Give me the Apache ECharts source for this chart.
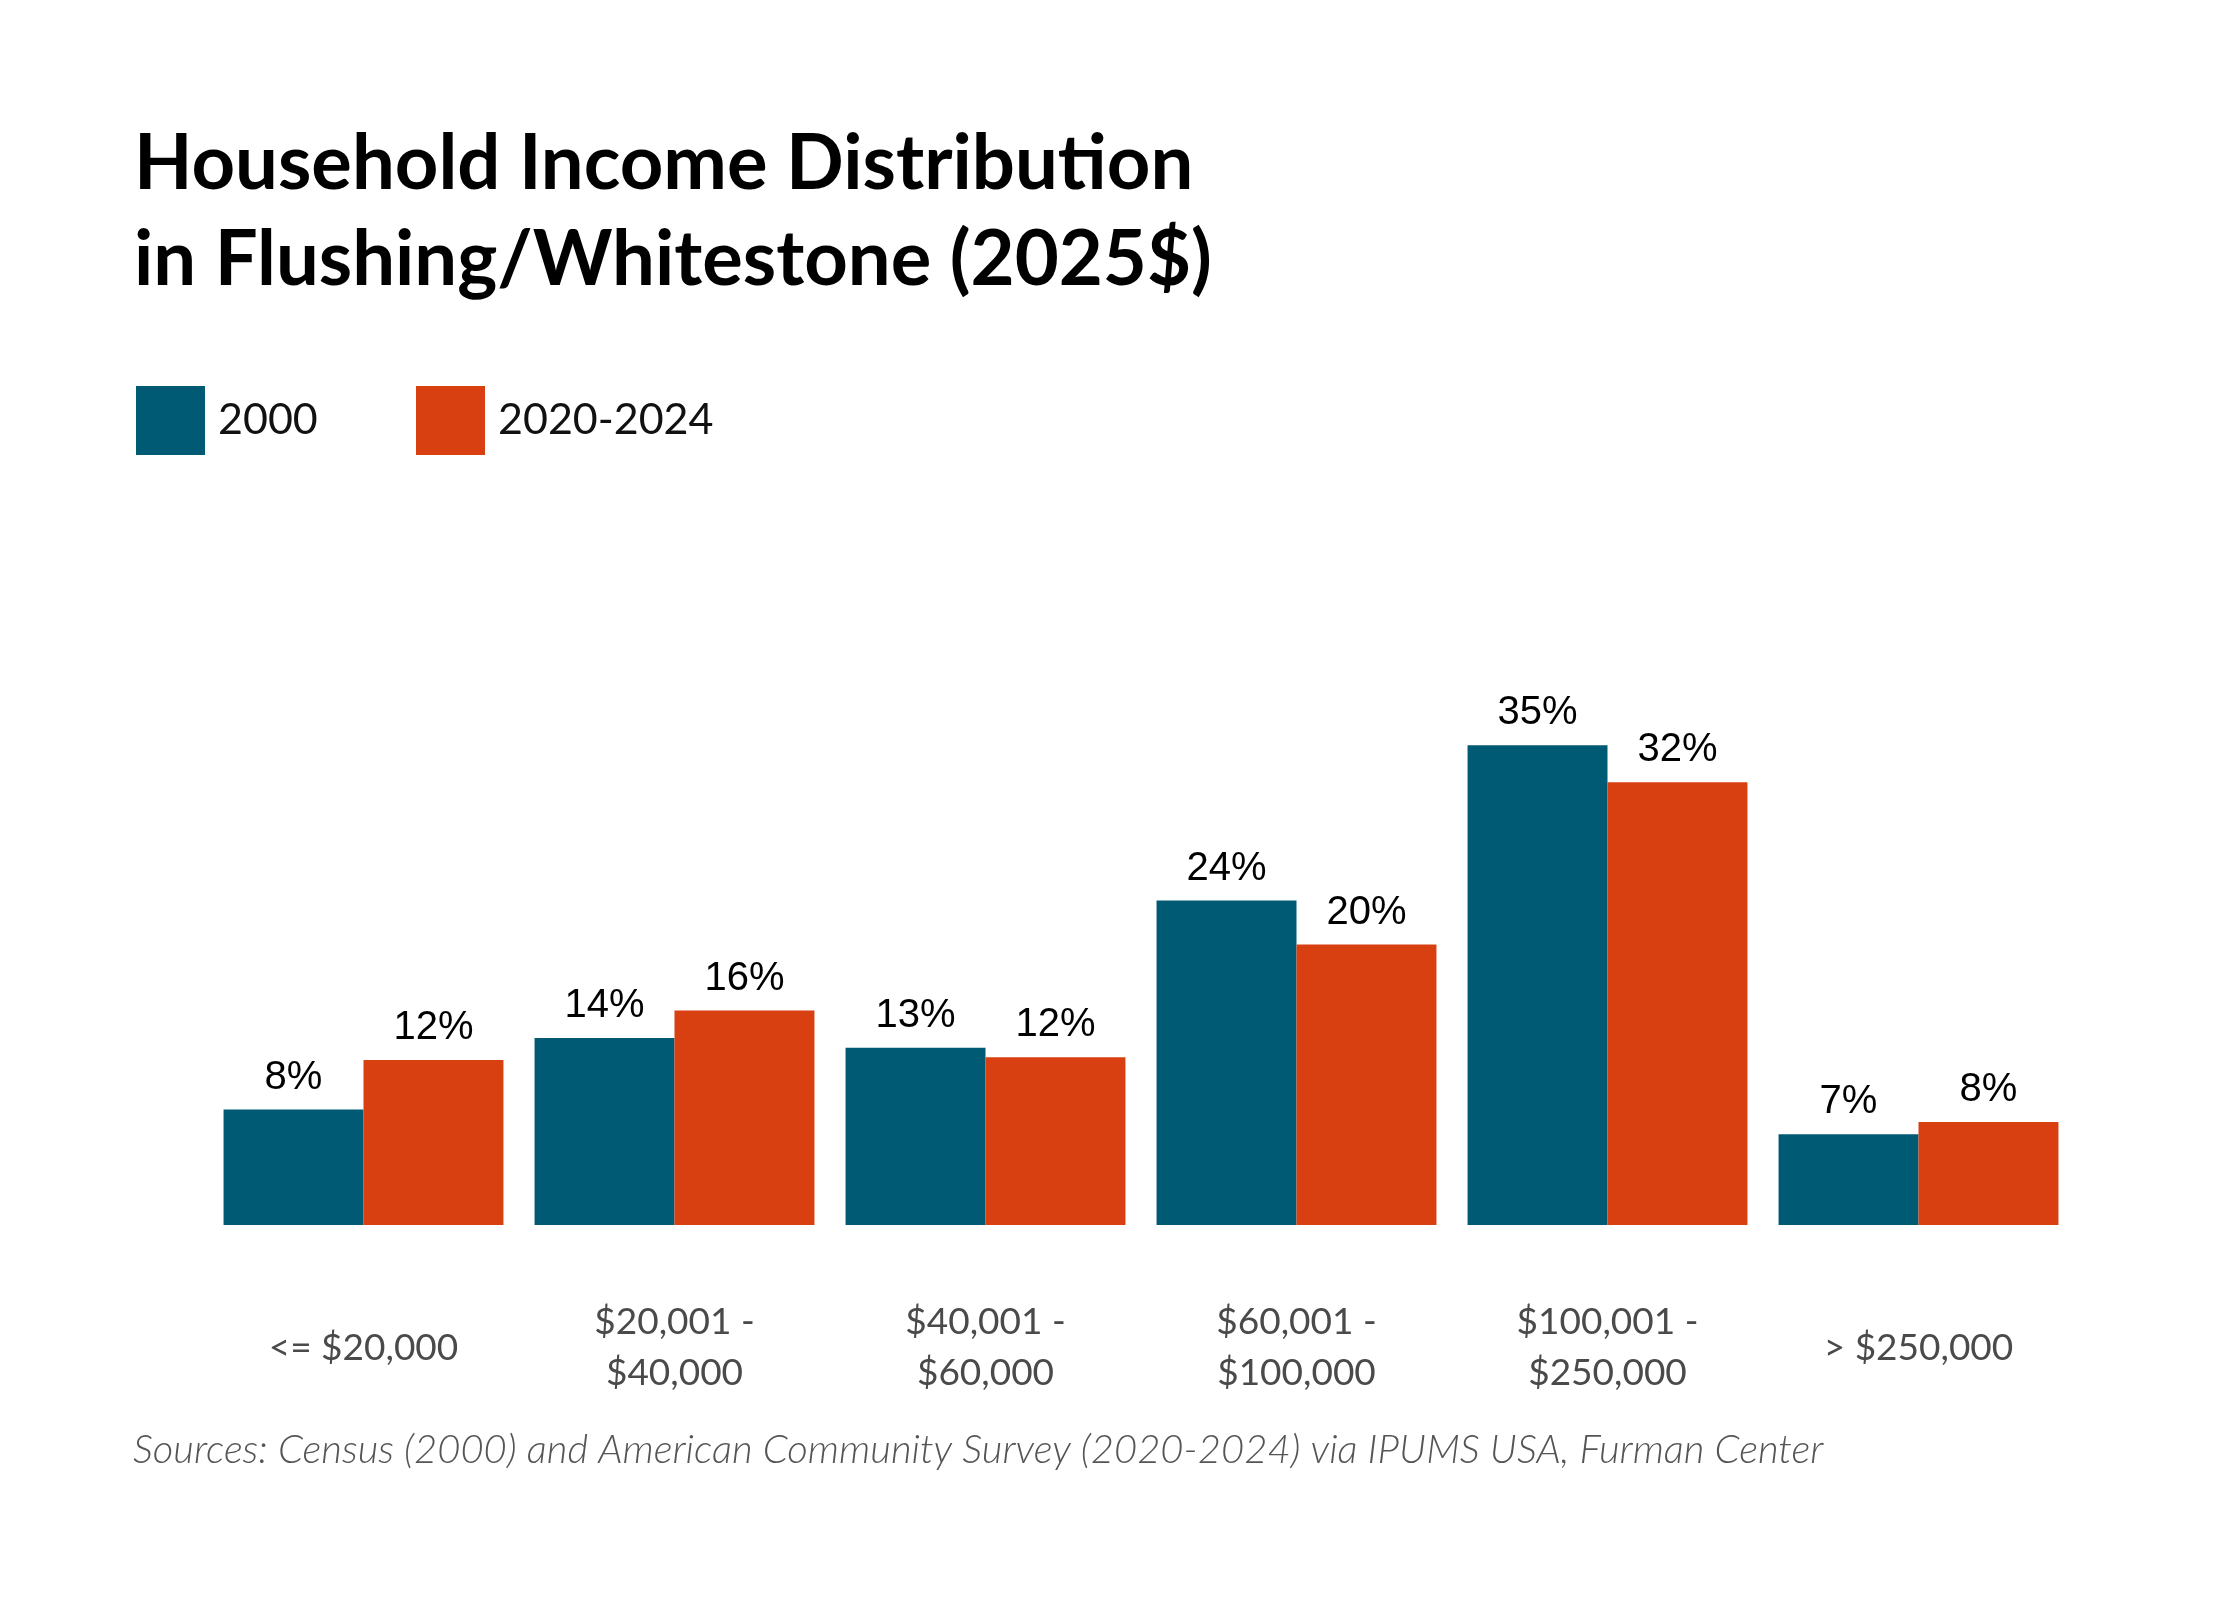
<!DOCTYPE html>
<html>
<head>
<meta charset="utf-8">
<title>Household Income Distribution in Flushing/Whitestone</title>
<script src="https://cdn.jsdelivr.net/npm/echarts@6/dist/echarts.min.js"></script>
<style>
  html, body { margin: 0; padding: 0; background: #fff; }
  #chart { width: 2240px; height: 1600px; }
</style>
</head>
<body>
<div id="chart"></div>
<script>
// income brackets (x axis)
var categories = [
  '<= $20,000',
  '$20,001 -\n$40,000',
  '$40,001 -\n$60,000',
  '$60,001 -\n$100,000',
  '$100,001 -\n$250,000',
  '> $250,000'
];
var seriesNames = ['2000', '2020-2024'];
// share of households, percent
var values2000 = [8.4, 13.6, 12.9, 23.6, 34.9, 6.6];
var values2020 = [12.0, 15.6, 12.2, 20.4, 32.2, 7.5];

var colors = ['#015a74', '#d84012'];
var sourceText = 'Sources: Census (2000) and American Community Survey (2020-2024) via IPUMS USA, Furman Center';

var chart = echarts.init(document.getElementById('chart'));

var barLabel = {
  show: true,
  position: 'top',
  distance: 12,
  color: '#000',
  fontFamily: 'Liberation Sans, Arial, sans-serif',
  fontSize: 40,
  formatter: p => Math.round(p.value) + '%'
};

var legendText = {
  color: '#111',
  fontFamily: 'Lato',
  fontSize: 43,
  padding: [0, 0, 0, 8]
};

var option = {
  backgroundColor: '#fff',
  animation: false,
  color: colors,
  title: {
    text: 'Household Income Distribution\nin Flushing/Whitestone (2025$)',
    left: 134,
    top: 116,
    padding: 0,
    textStyle: {
      fontFamily: 'Lato',
      fontWeight: 'bold',
      fontSize: 76,
      lineHeight: 96,
      color: '#000'
    }
  },
  legend: [
    {
      data: [seriesNames[0]],
      left: 136, top: 386, padding: 0,
      itemWidth: 69, itemHeight: 69,
      icon: 'rect',
      textStyle: legendText
    },
    {
      data: [seriesNames[1]],
      left: 416, top: 386, padding: 0,
      itemWidth: 69, itemHeight: 69,
      icon: 'rect',
      textStyle: legendText
    }
  ],
  grid: {
    left: 208,
    right: 166,
    top: 675,
    bottom: 375,
    containLabel: false
  },
  xAxis: {
    type: 'category',
    data: categories,
    axisLine: { show: false },
    axisTick: { show: false },
    axisLabel: {
      margin: 123,
      verticalAlign: 'middle',
      color: '#4a4a4a',
      fontFamily: 'Lato',
      fontSize: 37,
      lineHeight: 51,
      interval: 0
    }
  },
  yAxis: {
    type: 'value',
    min: 0,
    max: 40,
    show: false,
    splitLine: { show: false }
  },
  graphic: [
    {
      type: 'text',
      left: 133,
      top: 1430,
      style: {
        text: sourceText,
        fontFamily: 'Lato',
        fontStyle: 'italic',
        fontWeight: 300,
        fontSize: 40,
        fill: '#555'
      }
    }
  ],
  series: [
    {
      name: seriesNames[0],
      type: 'bar',
      data: values2000,
      barGap: '0%',
      barCategoryGap: '10%',
      label: barLabel
    },
    {
      name: seriesNames[1],
      type: 'bar',
      data: values2020,
      barGap: '0%',
      barCategoryGap: '10%',
      label: barLabel
    }
  ]
};

chart.setOption(option);
</script>
</body>
</html>
